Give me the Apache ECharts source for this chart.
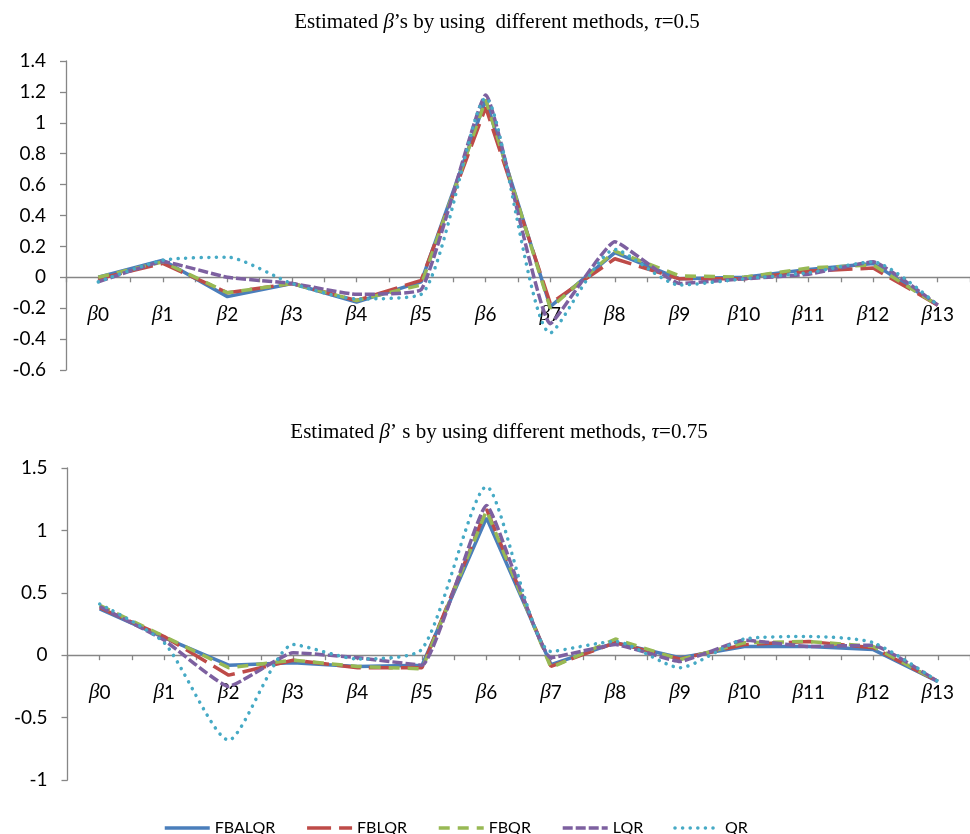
<!DOCTYPE html>
<html>
<head>
<meta charset="utf-8">
<script src="https://cdn.jsdelivr.net/npm/echarts@6/dist/echarts.min.js"></script>
<style>
html,body{margin:0;padding:0;background:#fff}
#chart{width:970px;height:834px}
</style>
</head>
<body>
<div id="chart"></div>
<script>
// categories / methods
var betas = ['β0','β1','β2','β3','β4','β5','β6','β7','β8','β9','β10','β11','β12','β13'];
var methods = ['FBALQR','FBLQR','FBQR','LQR','QR'];

// tau = 0.5
var t50FBALQR = [0, 0.11, -0.125, -0.04, -0.16, -0.03, 1.15, -0.19, 0.16, -0.01, 0, 0.05, 0.09, -0.18];
var t50FBLQR  = [-0.01, 0.09, -0.1, -0.04, -0.15, -0.02, 1.10, -0.17, 0.12, -0.01, -0.01, 0.04, 0.06, -0.18];
var t50FBQR   = [0, 0.1, -0.1, -0.04, -0.15, -0.05, 1.15, -0.2, 0.17, 0.01, 0, 0.06, 0.08, -0.18];
var t50LQR    = [-0.03, 0.1, 0, -0.04, -0.11, -0.08, 1.18, -0.3, 0.23, -0.04, -0.01, 0.02, 0.1, -0.18];
var t50QR     = [-0.03, 0.11, 0.13, -0.04, -0.14, -0.11, 1.16, -0.36, 0.18, -0.05, -0.01, 0.03, 0.1, -0.18];

// tau = 0.75
var t75FBALQR = [0.37, 0.14, -0.08, -0.06, -0.09, -0.08, 1.10, -0.075, 0.10, -0.02, 0.07, 0.07, 0.045, -0.21];
var t75FBLQR  = [0.38, 0.15, -0.16, -0.04, -0.10, -0.10, 1.17, -0.09, 0.10, -0.03, 0.085, 0.11, 0.06, -0.21];
var t75FBQR   = [0.40, 0.15, -0.10, -0.04, -0.09, -0.11, 1.16, -0.10, 0.13, -0.035, 0.10, 0.11, 0.07, -0.21];
var t75LQR    = [0.39, 0.12, -0.25, 0.02, -0.02, -0.08, 1.20, -0.02, 0.085, -0.05, 0.12, 0.07, 0.08, -0.21];
var t75QR     = [0.41, 0.10, -0.68, 0.085, -0.03, 0.05, 1.35, 0.03, 0.11, -0.10, 0.13, 0.15, 0.10, -0.21];

// y ranges
var y50 = {min: -0.6, max: 1.4, step: 0.2};
var y75 = {min: -1, max: 1.5, step: 0.5};

var colors = ['#4a7ebb','#be4b48','#98b954','#7d60a0','#46aac5'];
var dashes = ['solid',[24,8],[11,8],[10,3],[0.1,7.5]];
var smooths = [false,false,false,0.12,0.22];
var axisColor = '#868686';
var sans = 'Lato';

var grids = [
    {left: 66, right: -6, top: 61, height: 309},
    {left: 67.5, right: -6, top: 468, height: 312}
];

function xLabel(v){
    return '{b|β}{n|' + v.slice(1) + '}';
}
// put the category axis on the value 0 line of its grid
function zeroOffset(g, r){
    return -grids[g].height * (0 - r.min) / (r.max - r.min);
}

function mainX(g, r){
    return {
        gridIndex: g, type: 'category', data: betas, boundaryGap: true,
        offset: zeroOffset(g, r),
        axisLine: {onZero: false, lineStyle: {color: axisColor, width: 1.3}},
        axisTick: {show: true, length: 5, lineStyle: {color: axisColor, width: 1.3}},
        axisLabel: {
            margin: 27, interval: 0, formatter: xLabel,
            rich: {
                b: {fontFamily: 'Liberation Serif', fontStyle: 'italic', fontSize: 21, color: '#000'},
                n: {fontFamily: sans, fontSize: 19, color: '#000'}
            }
        },
        splitLine: {show: false}
    };
}
// second axis only for the ticks at category centres
function tickX(g, r){
    return {
        gridIndex: g, type: 'category', data: betas, position: 'bottom',
        offset: zeroOffset(g, r),
        axisLine: {show: false, onZero: false},
        axisTick: {show: true, alignWithLabel: true, length: 5, lineStyle: {color: axisColor, width: 1.3}},
        axisLabel: {show: false},
        splitLine: {show: false}
    };
}
function yAx(g, r){
    return {
        gridIndex: g, type: 'value', min: r.min, max: r.max, interval: r.step,
        axisLine: {show: true, lineStyle: {color: axisColor, width: 1.3}},
        axisTick: {show: true, length: 6, lineStyle: {color: axisColor, width: 1.3}},
        axisLabel: {margin: 20, fontFamily: sans, fontSize: 19, color: '#000'},
        splitLine: {show: false}
    };
}

var series = [];
var sets = [
    [t50FBALQR, t50FBLQR, t50FBQR, t50LQR, t50QR],
    [t75FBALQR, t75FBLQR, t75FBQR, t75LQR, t75QR]
];
sets.forEach(function(set, g){
    for (var i = 0; i < methods.length; i++) {
        series.push({
            name: methods[i], type: 'line',
            xAxisIndex: g * 2, yAxisIndex: g,
            data: set[i], symbol: 'none', showSymbol: false,
            smooth: smooths[i],
            lineStyle: {color: colors[i], width: 3.5, type: dashes[i], cap: i == 4 ? 'round' : 'butt'},
            itemStyle: {color: colors[i]}
        });
    }
});

var titleRich = {
    i: {fontFamily: 'Liberation Serif', fontStyle: 'italic', fontSize: 21, color: '#000'}
};
var titleStyle = {fontFamily: 'Liberation Serif', fontSize: 21, fontWeight: 'normal', color: '#000', rich: titleRich};

var myChart = echarts.init(document.getElementById('chart'));
var option = {
    animation: false,
    title: [{
        text: 'Estimated {i|β}’s by using  different methods, {i|τ}=0.5',
        left: 492, top: 7, textAlign: 'center', textStyle: titleStyle
    },{
        text: 'Estimated {i|β}’ s by using different methods, {i|τ}=0.75',
        left: 494, top: 417, textAlign: 'center', textStyle: titleStyle
    }],
    legend: {
        data: methods, left: 158, top: 815,
        itemWidth: 45, itemHeight: 14, itemGap: 30,
        itemStyle: {opacity: 0},
        lineStyle: {width: 3.5},
        textStyle: {fontFamily: sans, fontSize: 16, color: '#000'}
    },
    grid: grids,
    xAxis: [mainX(0, y50), tickX(0, y50), mainX(1, y75), tickX(1, y75)],
    yAxis: [yAx(0, y50), yAx(1, y75)],
    series: series
};
myChart.setOption(option);
</script>
</body>
</html>
